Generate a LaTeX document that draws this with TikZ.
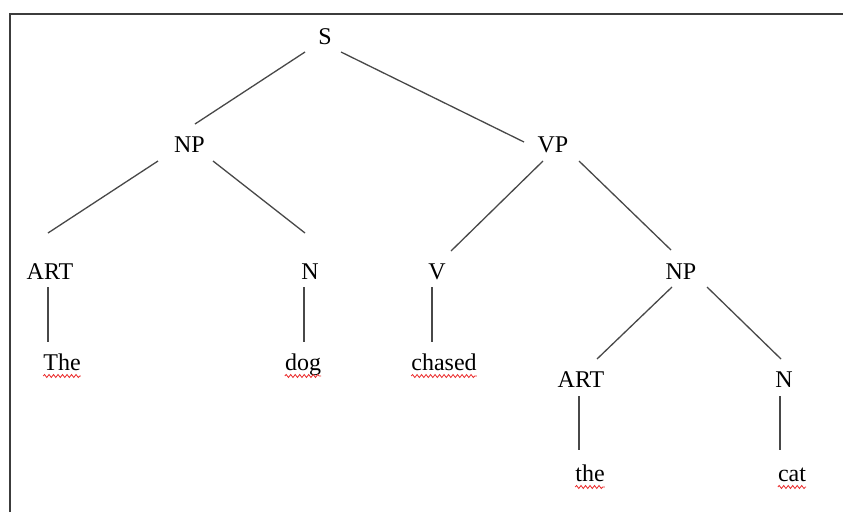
\documentclass[tikz,border=0pt]{standalone}
\usepackage{fontspec}
\setmainfont{Liberation Serif}
\usetikzlibrary{decorations.pathmorphing}
\definecolor{branch}{RGB}{72,72,72}
\definecolor{frameline}{RGB}{60,60,60}
\definecolor{spell}{RGB}{235,45,45}
\tikzset{
  tagnode/.style={inner sep=0pt, anchor=base, font=\fontsize{24}{28}\selectfont},
  wordnode/.style={tagnode},
  branchline/.style={draw=branch, line width=1.3pt},
  squiggle/.style={draw=spell, line width=0.8pt, decorate,
    decoration={snake, amplitude=1.5pt, segment length=4.5pt}}
}
\begin{document}
\begin{tikzpicture}[x=1pt,y=-1pt]
  \useasboundingbox (0,0) rectangle (843,512);
  \fill[white] (0,0) rectangle (843,512);
  % page frame
  \draw[frameline, line width=2pt] (10,512) -- (10,14.3) -- (843,14.3);

  % category labels
  \node[tagnode] (S)    at (325,44)   {S};
  \node[tagnode] (NPa)  at (189.5,152) {NP};
  \node[tagnode] (VP)   at (553,152)  {VP};
  \node[tagnode] (ARTa) at (50,279)   {ART};
  \node[tagnode] (Na)   at (310,279)  {N};
  \node[tagnode] (V)    at (437,279)  {V};
  \node[tagnode] (NPb)  at (681,279)  {NP};
  \node[tagnode] (ARTb) at (581,387)  {ART};
  \node[tagnode] (Nb)   at (784,387)  {N};

  % words
  \node[wordnode] (wThe)    at (62,370)  {The};
  \node[wordnode] (wdog)    at (303,370) {dog};
  \node[wordnode] (wchased) at (444,370) {chased};
  \node[wordnode] (wthe)    at (590,481) {the};
  \node[wordnode] (wcat)    at (792,481) {cat};

  % branches
  \draw[branchline] ([shift={(-20,8)}]S.base)     -- ([shift={(5.5,-28)}]NPa.base);
  \draw[branchline] ([shift={(16,8)}]S.base)      -- ([shift={(-29,-10)}]VP.base);
  \draw[branchline] ([shift={(-31.5,9)}]NPa.base) -- ([shift={(-2,-46)}]ARTa.base);
  \draw[branchline] ([shift={(23.5,9)}]NPa.base)  -- ([shift={(-5,-46)}]Na.base);
  \draw[branchline] ([shift={(-10,9)}]VP.base)    -- ([shift={(14,-28)}]V.base);
  \draw[branchline] ([shift={(26,9)}]VP.base)     -- ([shift={(-10,-29)}]NPb.base);
  \draw[branchline] ([shift={(-2,8)}]ARTa.base)   -- ([shift={(-14,-28)}]wThe.base);
  \draw[branchline] ([shift={(-6,8)}]Na.base)     -- ([shift={(1,-28)}]wdog.base);
  \draw[branchline] ([shift={(-5,8)}]V.base)      -- ([shift={(-12,-28)}]wchased.base);
  \draw[branchline] ([shift={(-9,8)}]NPb.base)    -- ([shift={(16,-28)}]ARTb.base);
  \draw[branchline] ([shift={(26,8)}]NPb.base)    -- ([shift={(-3,-28)}]Nb.base);
  \draw[branchline] ([shift={(-2,9)}]ARTb.base)   -- ([shift={(-11,-31)}]wthe.base);
  \draw[branchline] ([shift={(-4,9)}]Nb.base)     -- ([shift={(-12,-31)}]wcat.base);

  % spelling marks under the words
  \foreach \w in {wThe,wdog,wchased,wthe,wcat}
    \draw[squiggle] ([yshift=-6pt]\w.base west) -- ([yshift=-6pt]\w.base east);
\end{tikzpicture}
\end{document}
